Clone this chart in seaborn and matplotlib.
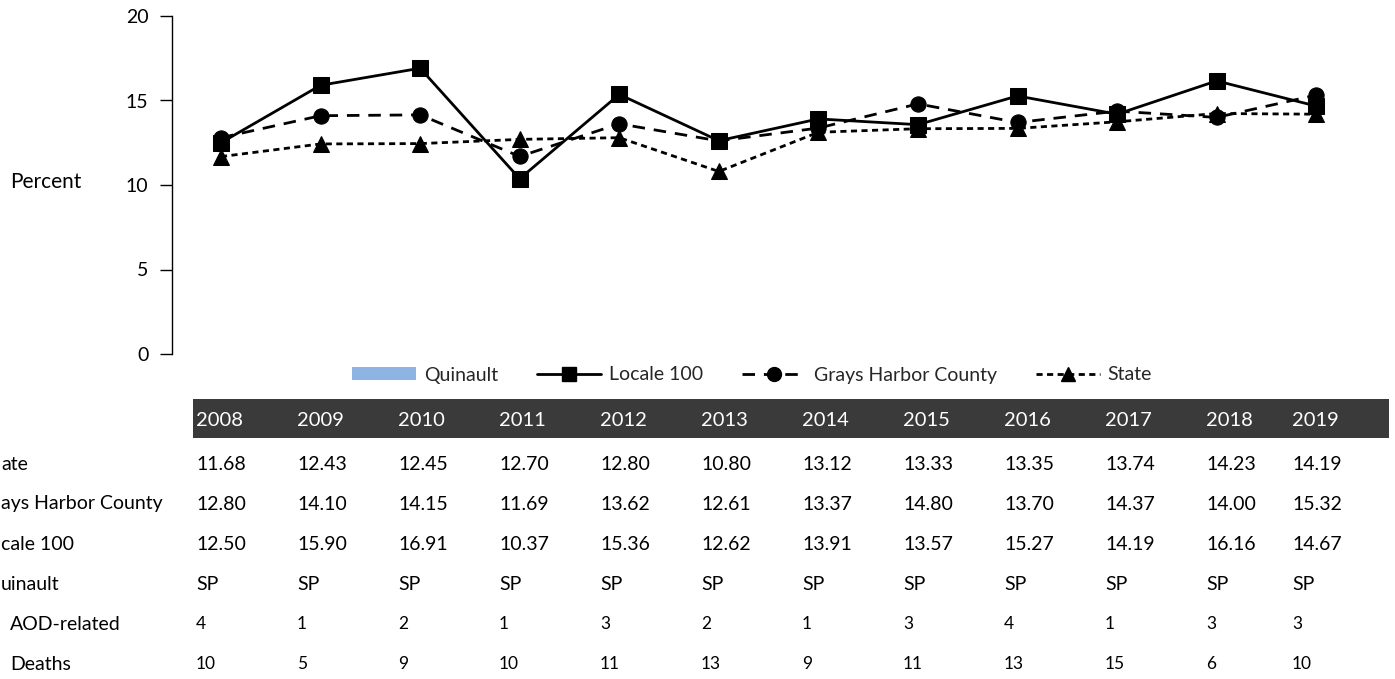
import matplotlib
matplotlib.use("Agg")
import matplotlib.pyplot as plt
import seaborn as sns
import pandas as pd
from matplotlib.patches import Rectangle, Patch
from matplotlib.lines import Line2D

years = [2008, 2009, 2010, 2011, 2012, 2013, 2014, 2015, 2016, 2017, 2018, 2019]
state = [11.68, 12.43, 12.45, 12.70, 12.80, 10.80, 13.12, 13.33, 13.35, 13.74, 14.23, 14.19]
grays = [12.80, 14.10, 14.15, 11.69, 13.62, 12.61, 13.37, 14.80, 13.70, 14.37, 14.00, 15.32]
locale = [12.50, 15.90, 16.91, 10.37, 15.36, 12.62, 13.91, 13.57, 15.27, 14.19, 16.16, 14.67]
quinault = ["SP"] * 12
aod_related = [4, 1, 2, 1, 3, 2, 1, 3, 4, 1, 3, 3]
deaths = [10, 5, 9, 10, 11, 13, 9, 11, 13, 15, 6, 10]

series_names = ["Locale 100", "Grays Harbor County", "State"]
series_values = [locale, grays, state]
# row labels as they appear (cut at the left edge in the reference)
row_labels = ["ate", "ays Harbor County", "cale 100", "uinault"]

W, H = 1395, 679
sns.set_theme(style="white")
plt.rcParams["font.family"] = ["Lato", "DejaVu Sans"]

fig = plt.figure(figsize=(W / 100, H / 100), dpi=100)

def fx(px):
    return px / W

def fy(py):
    return 1 - py / H

ax = fig.add_axes([fx(172), fy(354), fx(1366) - fx(172), fy(16) - fy(354)])

styles = {
    "Locale 100": dict(linestyle="-", marker="s", markersize=11),
    "Grays Harbor County": dict(linestyle=(0, (4.5, 3.2)), marker="o", markersize=11),
    "State": dict(linestyle=(0, (2.2, 1.6)), marker="^", markersize=11),
}

for name, vals in zip(series_names, series_values):
    df = pd.DataFrame({"year": years, "value": vals})
    st = styles[name]
    sns.lineplot(data=df, x="year", y="value", ax=ax, color="black", linewidth=2.0,
                 linestyle=st["linestyle"], marker=st["marker"], markersize=st["markersize"],
                 markeredgecolor="black", markerfacecolor="black", legend=False)

ax.set_xlim(2007.508, 2019.5)
ax.set_ylim(0, 20)
ax.set_yticks([0, 5, 10, 15, 20])
ax.set_xticks([])
ax.set_xlabel("")
ax.set_ylabel("")
for s in ["top", "right", "bottom"]:
    ax.spines[s].set_visible(False)
ax.spines["left"].set_color("black")
ax.spines["left"].set_linewidth(1.0)
ax.tick_params(axis="y", which="both", left=True, length=9, width=1.0, color="black",
               labelsize=14, pad=8, labelcolor="black")

fig.text(fx(10), fy(182), "Percent", fontsize=15, ha="left", va="center", color="black")

# Legend
handles = [
    Patch(facecolor="#8EB4E3", edgecolor="none"),
    Line2D([], [], color="black", lw=2, linestyle="-", marker="s", markersize=10),
    Line2D([], [], color="black", lw=2, linestyle=(0, (4.5, 3.2)), marker="o", markersize=10),
    Line2D([], [], color="black", lw=2, linestyle=(0, (2.2, 1.6)), marker="^", markersize=10),
]
labels = ["Quinault"] + series_names
fig.legend(handles, labels, loc="center", bbox_to_anchor=(fx(752), fy(375)), ncol=4,
           frameon=False, fontsize=14, handlelength=3.3, handleheight=0.6,
           columnspacing=2.0, handletextpad=0.4)

# Data table
fig.patches.append(Rectangle((fx(193), fy(438)), fx(1389) - fx(193), fy(399) - fy(438),
                             transform=fig.transFigure, facecolor="#3A3A3A", edgecolor="none"))
col_x = [196 + 101 * i for i in range(11)] + [1292]
for i, yr in enumerate(years):
    fig.text(fx(col_x[i]), fy(421), str(yr), fontsize=14.5, color="white", ha="left", va="center")

rows = [
    (row_labels[0], state, 464),
    (row_labels[1], grays, 504),
    (row_labels[2], locale, 544),
    (row_labels[3], quinault, 584),
]
for label, vals, y in rows:
    fig.text(fx(1), fy(y), label, fontsize=14, color="black", ha="left", va="center")
    for i, v in enumerate(vals):
        txt = v if isinstance(v, str) else f"{v:.2f}"
        fig.text(fx(col_x[i]), fy(y), txt, fontsize=14, color="black", ha="left", va="center")

small_rows = [("AOD-related", aod_related, 624), ("Deaths", deaths, 664)]
for label, vals, y in small_rows:
    fig.text(fx(10), fy(y), label, fontsize=14, color="black", ha="left", va="center")
    for i, v in enumerate(vals):
        fig.text(fx(col_x[i]), fy(y), str(v), fontsize=12.5, color="black", ha="left", va="center")

fig.savefig("out.png", dpi=100, facecolor="white")
